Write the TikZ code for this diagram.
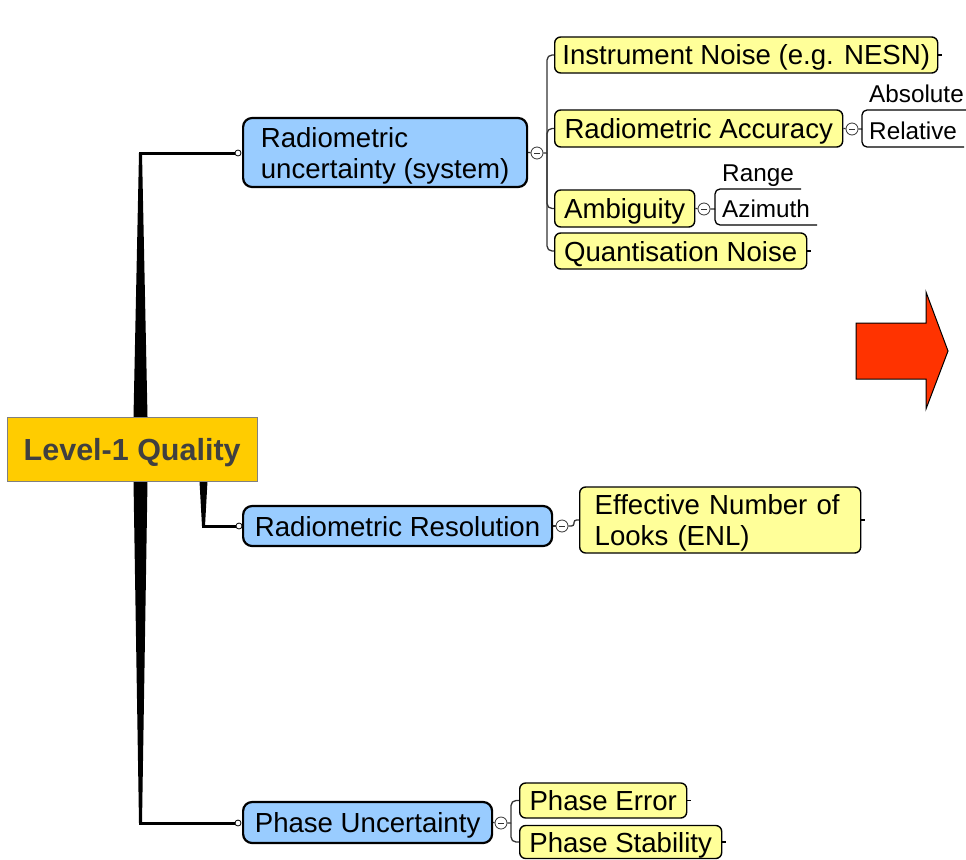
\documentclass[tikz,border=0pt]{standalone}
\usepackage{fontspec}
\setmainfont{Liberation Sans}
\usepackage{xcolor}
\usetikzlibrary{calc,backgrounds}
\definecolor{rootfill}{HTML}{FFCC00}
\definecolor{roottext}{HTML}{404040}
\definecolor{topicfill}{HTML}{99CCFF}
\definecolor{subfill}{HTML}{FFFF99}
\definecolor{arrowred}{HTML}{FF3300}

\begin{document}
\begin{tikzpicture}[x=1pt,y=-1pt,
    root/.style={rectangle, draw=gray, fill=rootfill, text=roottext, anchor=west, inner sep=0pt,
        text depth=0pt, font=\fontsize{30.5}{34}\selectfont\bfseries},
    topic/.style={rounded corners=9pt, draw=black, line width=2.2pt, fill=topicfill, align=left,
        anchor=west, inner sep=0pt, text depth=0pt, font=\fontsize{27.6}{31}\selectfont},
    sub/.style={rounded corners=6pt, draw=black, line width=1.4pt, fill=subfill, align=left,
        anchor=west, inner sep=0pt, text depth=0pt, font=\fontsize{27.6}{31}\selectfont},
    leaf/.style={anchor=south west, inner xsep=7pt, inner ysep=1pt, text height=18pt, text depth=6pt,
        font=\fontsize{24.3}{28}\selectfont},
    fold/.style={circle, draw=black!80, fill=white, line width=0.8pt, minimum size=12pt, inner sep=0pt,
        path picture={\draw[line width=0.8pt] ([xshift=-3pt]path picture bounding box.center)
            -- ([xshift=3pt]path picture bounding box.center);}},
    knob/.style={circle, draw=black, fill=white, line width=0.8pt, minimum size=6pt, inner sep=0pt},
    bracket/.style={draw=black!80, line width=1.3pt, rounded corners=5pt},
    trunk/.style={line width=3pt},
    tick/.style={line width=1.3pt}]

    \useasboundingbox (0,0) rectangle (966,859);

    \node[root, minimum width=250pt, minimum height=64pt] (root) at (7,449) {Level-1 Quality};

    \node[topic, minimum width=284pt, minimum height=69pt] (ru) at (242,152.5) {Radiometric\\uncertainty (system)};
    \node[topic, minimum width=309pt, minimum height=40pt] (rr) at (242,526) {Radiometric Resolution};
    \node[topic, minimum width=249pt, minimum height=41pt] (pu) at (242,822.5) {Phase Uncertainty};

    \node[sub, minimum width=383pt, minimum height=36pt] (inst) at (554,55) {Instrument Noise (e.g. NESN)};
    \node[sub, minimum width=288pt, minimum height=37pt] (racc) at (554,128.5) {Radiometric Accuracy};
    \node[sub, minimum width=140pt, minimum height=37pt] (amb) at (554,208.5) {Ambiguity};
    \node[sub, minimum width=252pt, minimum height=36pt] (qn) at (554,251) {Quantisation Noise};
    \node[sub, inner xsep=15pt, text width=251pt, text depth=31pt, minimum height=66pt] (enl) at (579,520) {Effective Number of\\Looks (ENL)};
    \node[sub, minimum width=167pt, minimum height=35pt] (perr) at (519,800.5) {Phase Error};
    \node[sub, minimum width=202pt, minimum height=33pt] (pstab) at (519,842) {Phase Stability};

    \node[leaf] (abs) at (862,110) {Absolute};
    \node[leaf] (rel) at (862,147) {Relative};
    \node[leaf] (rng) at (715,189) {Range};
    \node[leaf] (azi) at (715,225) {Azimuth};

    \node[fold] (f1) at (537,153) {};
    \node[fold] (f2) at (852,129) {};
    \node[fold] (f3) at (704,209) {};
    \node[fold] (f4) at (562,526) {};
    \node[fold] (f5) at (501,823) {};

    \node[knob] (k1) at (238,153) {};
    \node[knob] (k2) at (239,526) {};
    \node[knob] (k3) at (238,823) {};

    \begin{scope}[on background layer]
        % tapered trunk
        \coordinate (ju) at (140.5,153);
        \coordinate (jd) at (140.5,823);
        \coordinate (jm) at (203.5,526);
        \fill ($(ju |- root.north)+(-7,0)$) -- ($(ju)+(-1.5,0)$) -- ($(ju)+(1.5,0)$) -- ($(ju |- root.north)+(7,0)$) -- cycle;
        \fill ($(jd |- root.south)+(-7,0)$) -- ($(jd)+(-1.5,0)$) -- ($(jd)+(1.5,0)$) -- ($(jd |- root.south)+(7,0)$) -- cycle;
        \fill ($(jm |- root.south)+(-4,0)$) -- ($(jm)+(-1.5,0)$) -- ($(jm)+(1.5,0)$) -- ($(jm |- root.south)+(4,0)$) -- cycle;
        \draw[trunk] ($(ju)+(-1.5,0)$) -- (k1);
        \draw[trunk] ($(jd)+(-1.5,0)$) -- (k3);
        \draw[trunk] ($(jm)+(-1.5,0)$) -- (k2);

        \coordinate (b1) at (547,153);
        \draw[bracket] (ru.east) -- (f1) -- (b1);
        \foreach \n in {inst,racc,amb,qn}
            \draw[bracket] (b1) |- (\n.west);

        \coordinate (b2) at (862,129);
        \draw[bracket] (racc.east) -- (f2) -- (b2);
        \draw[bracket, draw=black] (b2) |- (abs.south east);
        \draw[bracket, draw=black] (b2) |- (rel.south east);

        \coordinate (b3) at (715,209);
        \draw[bracket] (amb.east) -- (f3) -- (b3);
        \draw[bracket, draw=black] (b3) |- (rng.south east);
        \draw[bracket, draw=black] (b3) |- (azi.south east);

        \draw[bracket] (rr.east) -- (f4);
        \draw[bracket, rounded corners=2.5pt] (f4) -| ($(enl.west)+(-5,0)$) -- (enl.west);

        \coordinate (b5) at (511,823);
        \draw[bracket] (pu.east) -- (f5) -- (b5);
        \draw[bracket] (b5) |- (perr.west);
        \draw[bracket] (b5) |- (pstab.west);

        \foreach \n in {inst,qn,enl,perr,pstab}
            \draw[tick] (\n.east) -- ++(4,0);
    \end{scope}

    \filldraw[fill=arrowred, draw=black, line width=1pt] (856,323) -- (926,323) -- (926,292) -- (948,351)
        -- (926,409) -- (926,379) -- (856,379) -- cycle;
\end{tikzpicture}
\end{document}
